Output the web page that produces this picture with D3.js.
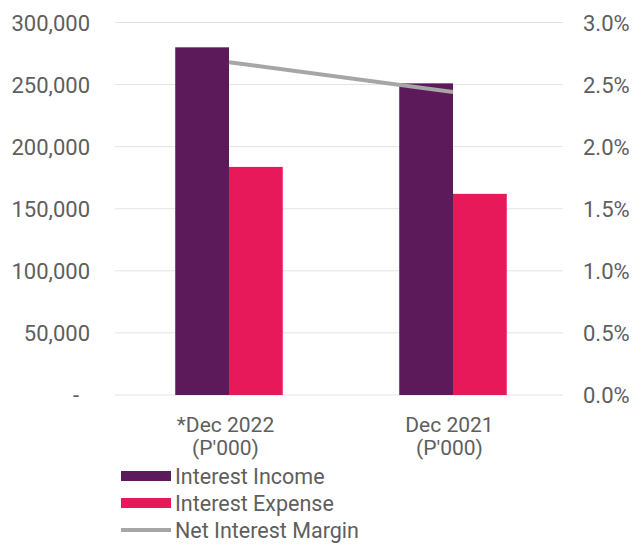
<!DOCTYPE html>
<html>
<head>
<meta charset="utf-8">
<script src="https://cdn.jsdelivr.net/npm/d3@7"></script>
<style>
  html, body { margin: 0; padding: 0; background: #fff; }
  svg { display: block; }
  text { font-family: Roboto, "Noto Sans", sans-serif; fill: #5e5e5e; }
</style>
</head>
<body>
<div id="chart"></div>
<script>
// Categories and series
const categories = ["*Dec 2022", "Dec 2021"];
const categoryUnits = ["(P'000)", "(P'000)"];
const seriesNames = ["Interest Income", "Interest Expense"];
const interestIncome = [280000, 251000];
const interestExpense = [183700, 162000];
const netInterestMargin = [0.0268, 0.0244];
const leftTicks = [0, 50000, 100000, 150000, 200000, 250000, 300000];
const rightTicks = [0, 0.005, 0.01, 0.015, 0.02, 0.025, 0.03];
const lineName = "Net Interest Margin";

const W = 635, H = 544;
const colors = { "Interest Income": "#5c1a5b", "Interest Expense": "#e8195a" };
const lineColor = "#a6a6a6";

const svg = d3.select("#chart").append("svg").attr("width", W).attr("height", H);

const plot = { left: 117, right: 565, top: 22.5, bottom: 395 };

const x0 = d3.scaleBand().domain(categories).range([plot.left, plot.right]).padding(0);
const x1 = d3.scaleBand().domain(seriesNames)
  .range([x0.bandwidth() * 0.26, x0.bandwidth() * 0.74]).padding(0);
const yL = d3.scaleLinear().domain([0, 300000]).range([plot.bottom, plot.top]);
const yR = d3.scaleLinear().domain([0, 0.03]).range([plot.bottom, plot.top]);

// Gridlines
svg.append("g")
  .selectAll("line").data(leftTicks).join("line")
  .attr("x1", plot.left - 2).attr("x2", plot.right - 2)
  .attr("y1", d => yL(d)).attr("y2", d => yL(d))
  .attr("stroke", "#e3e3e3").attr("stroke-width", 1);

// Left axis
const leftAxis = d3.axisLeft(yL).tickValues(leftTicks)
  .tickFormat(d => d === 0 ? "-" : d3.format(",")(d)).tickSize(0).tickPadding(0);
const gL = svg.append("g").attr("transform", `translate(90,0)`).call(leftAxis);
gL.select(".domain").remove();
gL.selectAll("text").style("font-size", "22px").attr("dy", "0.35em")
  .attr("dx", d => d === 0 ? -11 : 0);

// Right axis
const rightAxis = d3.axisRight(yR).tickValues(rightTicks)
  .tickFormat(d3.format(".1%")).tickSize(0).tickPadding(0);
const gR = svg.append("g").attr("transform", `translate(583,0)`).call(rightAxis);
gR.select(".domain").remove();
gR.selectAll("text").style("font-size", "22px").attr("dy", "0.35em");

// Bars
const rows = categories.map((c, i) => ({
  cat: c,
  vals: [
    { key: "Interest Income", v: interestIncome[i] },
    { key: "Interest Expense", v: interestExpense[i] }
  ]
}));
svg.append("g").selectAll("g").data(rows).join("g")
  .attr("transform", d => `translate(${x0(d.cat)},0)`)
  .selectAll("rect").data(d => d.vals).join("rect")
  .attr("x", d => x1(d.key)).attr("width", x1.bandwidth())
  .attr("y", d => yL(d.v)).attr("height", d => yL(0) - yL(d.v))
  .attr("fill", d => colors[d.key]);

// Net interest margin line
const line = d3.line()
  .x((d, i) => x0(categories[i]) + x0.bandwidth() / 2)
  .y(d => yR(d));
svg.append("path").datum(netInterestMargin)
  .attr("d", line).attr("fill", "none")
  .attr("stroke", lineColor).attr("stroke-width", 4);

// Category labels
const gx = svg.append("g");
categories.forEach((c, i) => {
  const cx = x0(c) + x0.bandwidth() / 2 - 3.5;
  gx.append("text").attr("x", cx).attr("y", 425).attr("dy", "0.35em")
    .attr("text-anchor", "middle").style("font-size", "21px").text(c);
  gx.append("text").attr("x", cx).attr("y", 448).attr("dy", "0.35em")
    .attr("text-anchor", "middle").style("font-size", "21px").text(categoryUnits[i]);
});

// Legend
const legendItems = [
  { name: "Interest Income", type: "rect", color: colors["Interest Income"], y: 476 },
  { name: "Interest Expense", type: "rect", color: colors["Interest Expense"], y: 503 },
  { name: lineName, type: "line", color: lineColor, y: 530 }
];
const lg = svg.append("g");
legendItems.forEach(it => {
  if (it.type === "rect") {
    lg.append("rect").attr("x", 121).attr("y", it.y - 5).attr("width", 50).attr("height", 10)
      .attr("fill", it.color);
  } else {
    lg.append("line").attr("x1", 121).attr("x2", 171).attr("y1", it.y).attr("y2", it.y)
      .attr("stroke", it.color).attr("stroke-width", 4);
  }
  lg.append("text").attr("x", 175).attr("y", it.y).attr("dy", "0.35em")
    .style("font-size", "21.5px").text(it.name);
});
</script>
</body>
</html>
